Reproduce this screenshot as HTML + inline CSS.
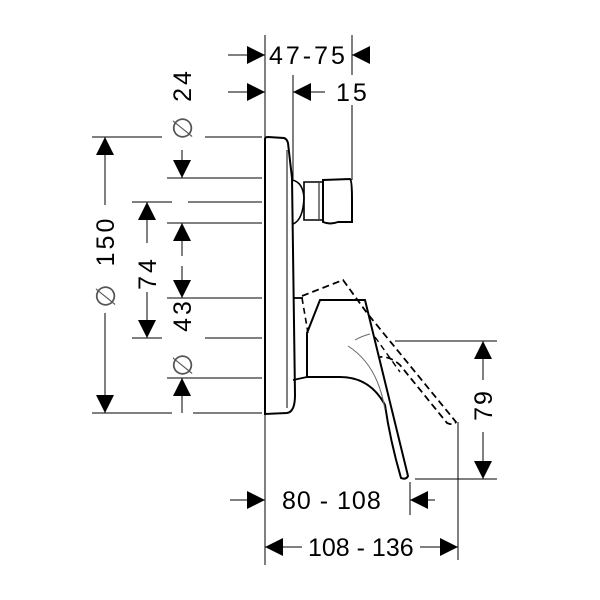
<!DOCTYPE html>
<html><head><style>body{margin:0;background:#fff}svg{display:block}text{font-family:"Liberation Sans",sans-serif;font-size:25px;fill:#000}.g{fill:#555;font-size:27px}</style></head><body>
<svg width="600" height="600" viewBox="0 0 600 600" xmlns="http://www.w3.org/2000/svg">
<defs>
<marker id="a" viewBox="0 0 10 10" refX="10" refY="5" markerWidth="18" markerHeight="18" markerUnits="userSpaceOnUse" orient="auto"><path d="M0,0L10,5L0,10z" fill="#000"/></marker>
</defs>
<g stroke="#000" stroke-width="1" fill="none">
<line x1="265" y1="35" x2="265" y2="565"/>
<line x1="352" y1="35" x2="352" y2="75"/>
<line x1="352" y1="105" x2="352" y2="180"/>
<line x1="293" y1="75" x2="293" y2="180"/>
<line x1="92" y1="137" x2="162" y2="137"/><line x1="205" y1="137" x2="262" y2="137"/>
<line x1="167" y1="178" x2="262" y2="178"/>
<line x1="132" y1="202" x2="172" y2="202"/><line x1="188" y1="202" x2="262" y2="202"/>
<line x1="167" y1="223" x2="262" y2="223"/>
<line x1="167" y1="298" x2="262" y2="298"/>
<line x1="132" y1="338" x2="162" y2="338"/><line x1="205" y1="338" x2="262" y2="338"/>
<line x1="167" y1="378" x2="262" y2="378"/>
<line x1="92" y1="413" x2="172" y2="413"/><line x1="193" y1="413" x2="262" y2="413"/>
<line x1="395" y1="341" x2="497" y2="341"/>
<line x1="415" y1="479" x2="497" y2="479"/>
<line x1="410" y1="482" x2="410" y2="515"/>
<line x1="458" y1="422" x2="458" y2="560"/>
<line x1="228" y1="55" x2="265" y2="55" marker-end="url(#a)"/>
<line x1="370" y1="55" x2="352" y2="55" marker-end="url(#a)"/>
<line x1="228" y1="92" x2="265" y2="92" marker-end="url(#a)"/>
<line x1="325" y1="92" x2="293" y2="92" marker-end="url(#a)"/>
<line x1="105" y1="205" x2="105" y2="137" marker-end="url(#a)"/>
<line x1="105" y1="313" x2="105" y2="413" marker-end="url(#a)"/>
<line x1="147" y1="243" x2="147" y2="202" marker-end="url(#a)"/>
<line x1="147" y1="292" x2="147" y2="338" marker-end="url(#a)"/>
<line x1="182" y1="150" x2="182" y2="178" marker-end="url(#a)"/>
<line x1="182" y1="256" x2="182" y2="223" marker-end="url(#a)"/>
<line x1="182" y1="266" x2="182" y2="298" marker-end="url(#a)"/>
<line x1="182" y1="413" x2="182" y2="378" marker-end="url(#a)"/>
<line x1="483" y1="380" x2="483" y2="341" marker-end="url(#a)"/>
<line x1="483" y1="432" x2="483" y2="479" marker-end="url(#a)"/>
<line x1="230" y1="500" x2="265" y2="500" marker-end="url(#a)"/>
<line x1="435" y1="500" x2="410" y2="500" marker-end="url(#a)"/>
<line x1="302" y1="547" x2="265" y2="547" marker-end="url(#a)"/>
<line x1="420" y1="547" x2="458" y2="547" marker-end="url(#a)"/>
<path d="M265,139 Q265,137 268,137 L284,138 Q287,139 288,143 L292,178 L295,395 Q295,412 287,413 L265,414 Z" stroke-width="2"/>
<line x1="287" y1="150" x2="287" y2="408"/>
<path d="M292,180 Q303,182 304,198 Q303,220 293,224" stroke-width="1.6"/>
<path d="M304,182 L323,182 L323,220 L304,220 Z" stroke-width="1.6"/>
<path d="M323,180 L350,179 Q352,180 352,200 L352,222 L338,222 Q330,225 323,222 Z" stroke-width="2"/>
<line x1="319" y1="183" x2="319" y2="219"/>
<path d="M293,298 L303,298" stroke-width="1.8"/>
<path d="M293,380 L307,377" stroke-width="1.8"/>
<path d="M307,377 L307,333 L320,300 L365,300 L408,476 Q406,480 401,478 Q390,440 385,405 Q370,377 340,377 Z" stroke-width="2"/>
<path d="M355,340 Q362,336 370,334" stroke="#666"/>
<path d="M348,346 Q378,365 385,410" stroke="#666"/>
<path d="M302,296 L343,280 L367,313 L456,422 Q454,426 447,423 L400,365 Q390,356 380,357" stroke-dasharray="7,4" stroke-width="1.8"/>
<path d="M375,337 L400,372" stroke-dasharray="6,4" stroke-width="1.4"/>
<path d="M302,298 L308,333" stroke-dasharray="6,4" stroke-width="1.6"/>
</g>
<text x="269" y="64" style="letter-spacing:3px">47-75</text>
<text x="336" y="101" style="letter-spacing:3px">15</text>
<text x="282" y="509" style="letter-spacing:1px">80 - 108</text>
<text x="308" y="556">108 - 136</text>
<text transform="translate(114,241) rotate(-90)" text-anchor="middle" style="letter-spacing:3px">150</text>
<text class="g" transform="translate(115,296) rotate(-90)" text-anchor="middle">∅</text>
<text transform="translate(156,273) rotate(-90)" text-anchor="middle" style="letter-spacing:3px">74</text>
<text transform="translate(191,85) rotate(-90)" text-anchor="middle" style="letter-spacing:3px">24</text>
<text class="g" transform="translate(192,128) rotate(-90)" text-anchor="middle">∅</text>
<text transform="translate(191,315) rotate(-90)" text-anchor="middle" style="letter-spacing:3px">43</text>
<text class="g" transform="translate(192,365) rotate(-90)" text-anchor="middle">∅</text>
<text transform="translate(492,405) rotate(-90)" text-anchor="middle" style="letter-spacing:2px">79</text>
</svg>
</body></html>
